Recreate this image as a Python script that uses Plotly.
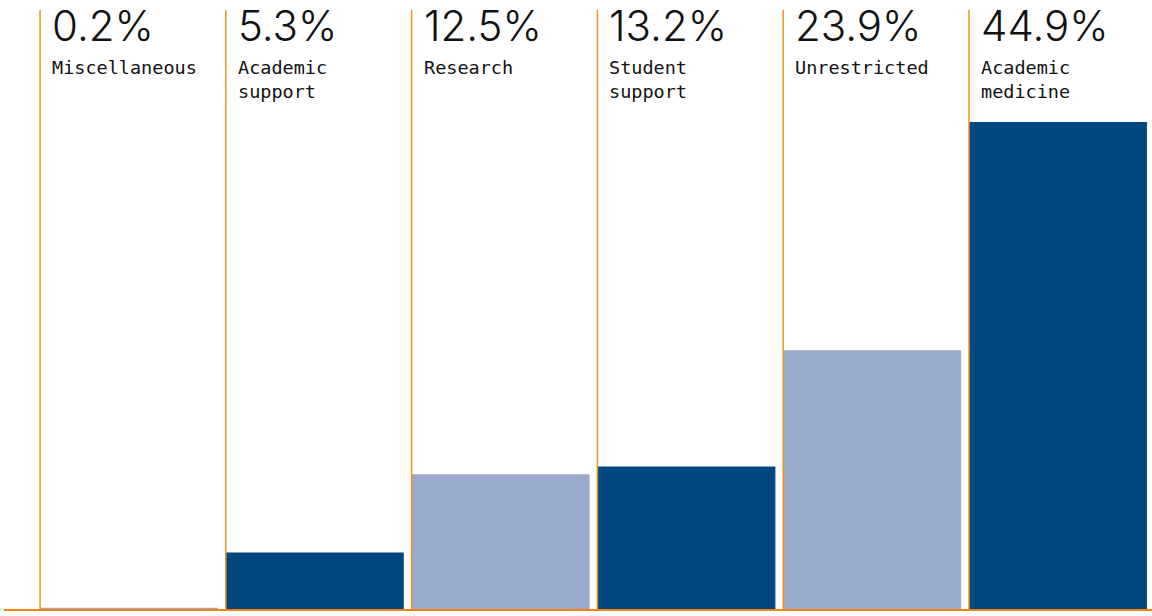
import plotly.graph_objects as go

categories = ["Miscellaneous", "Academic support", "Research", "Student support", "Unrestricted", "Academic medicine"]
label_lines = ["Miscellaneous", "Academic<br>support", "Research", "Student<br>support", "Unrestricted", "Academic<br>medicine"]
values = [0.2, 5.3, 12.5, 13.2, 23.9, 44.9]
pct_labels = ["0.2%", "5.3%", "12.5%", "13.2%", "23.9%", "44.9%"]

DARK = "#00477F"
LIGHT = "#99AACB"
ORANGE = "#F5901E"
colors = [LIGHT, DARK, LIGHT, DARK, LIGHT, DARK]

xpos = list(range(len(categories)))

fig = go.Figure()
fig.add_trace(go.Bar(
    x=xpos, y=values, width=0.958, offset=0,
    marker=dict(color=colors, line=dict(width=0)),
    hovertext=categories, hoverinfo="text+y",
))

shapes = []
for i in xpos:
    shapes.append(dict(type="line", xref="x", yref="paper", x0=i, x1=i, y0=0, y1=1,
                       line=dict(color=ORANGE, width=1.5), layer="above"))
shapes.append(dict(type="line", xref="paper", yref="paper", x0=0, x1=1, y0=0, y1=0,
                   line=dict(color="#F5820A", width=2), layer="above"))

annotations = []
for i in xpos:
    annotations.append(dict(x=i, xref="x", y=1, yref="paper", xanchor="left", yanchor="top",
                            xshift=10, yshift=12, text=pct_labels[i], showarrow=False,
                            font=dict(family="Inter", size=42, weight=300, color="#111111")))
    annotations.append(dict(x=i, xref="x", y=1, yref="paper", xanchor="left", yanchor="top",
                            xshift=10, yshift=-45, text=label_lines[i], showarrow=False, align="left",
                            font=dict(family="DejaVu Sans Mono", size=18.5, color="#111111")))

fig.update_layout(
    width=1152, height=616,
    margin=dict(l=4, r=0, t=10, b=6),
    paper_bgcolor="white", plot_bgcolor="white",
    showlegend=False,
    xaxis=dict(range=[-0.194, 5.985], visible=False, fixedrange=True),
    yaxis=dict(range=[0, 55.2], visible=False, fixedrange=True),
    shapes=shapes, annotations=annotations,
)

fig.write_html("out.html", config={"displayModeBar": False})
